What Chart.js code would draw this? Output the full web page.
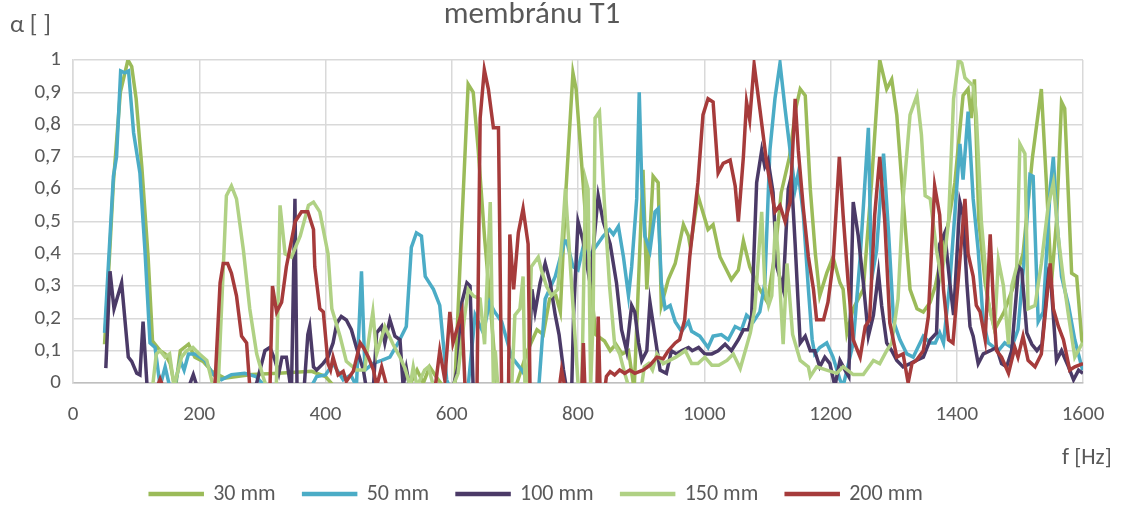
<!DOCTYPE html>
<html>
<head>
<meta charset="utf-8">
<script src="https://cdn.jsdelivr.net/npm/chart.js@4.4.1/dist/chart.umd.min.js"></script>
<style>
  html, body { margin: 0; padding: 0; background: #ffffff; }
  #wrap { width: 1126px; height: 509px; }
</style>
</head>
<body>
<div id="wrap"><canvas id="c" width="1126" height="509"></canvas></div>
<script>
// Absorption coefficient α versus frequency for five air-gap depths behind membrane T1
const titleText = 'membránu T1';
const yAxisTitle = 'α [ ]';
const xAxisTitle = 'f [Hz]';
const seriesNames = ['30 mm', '50 mm', '100 mm', '150 mm', '200 mm'];
const seriesColors = ['#9BBB59', '#4BACC6', '#4B3A67', '#B0D184', '#A63B3B'];
const yTickLabels = ['0', '0,1', '0,2', '0,3', '0,4', '0,5', '0,6', '0,7', '0,8', '0,9', '1'];
const xTickLabels = ['0', '200', '400', '600', '800', '1000', '1200', '1400', '1600'];

// [f in Hz, α]
const s30 = [[50,0.12],[58,0.40],[64,0.62],[75,0.90],[87,1.00],[93,0.98],[100,0.88],[109,0.67],[119,0.39],[126,0.13],[138,0.10],[146,0.09],[154,0.06],[162,-0.02],[170,0.10],[183,0.12],[193,0.08],[206,0.067],[220,0.036],[240,0.015],[283,0.026],[325,0.03],[378,0.036],[400,0.02],[418,-0.02],[440,-0.03],[530,-0.02],[545,0.04],[555,0.00],[565,0.05],[575,0.02],[590,-0.02],[605,0.00],[615,0.45],[626,0.925],[634,0.90],[642,0.72],[652,0.45],[662,0.22],[672,-0.02],[700,-0.02],[720,0.10],[735,0.165],[745,0.15],[755,0.26],[765,0.27],[772,0.22],[781,0.60],[792,0.96],[797,0.91],[808,0.62],[818,0.35],[828,0.15],[842,0.13],[851,0.10],[860,0.12],[870,0.09],[880,0.10],[889,-0.02],[903,0.66],[909,0.29],[919,0.64],[927,0.62],[932,0.24],[943,0.32],[954,0.37],[967,0.49],[975,0.455],[978,0.42],[990,0.58],[1006,0.475],[1014,0.49],[1025,0.39],[1043,0.32],[1054,0.35],[1062,0.44],[1072,0.36],[1085,0.30],[1100,0.25],[1112,0.40],[1122,0.59],[1135,0.70],[1145,0.85],[1152,0.91],[1160,0.89],[1168,0.60],[1176,0.40],[1183,0.27],[1194,0.34],[1204,0.39],[1215,0.31],[1220,0.29],[1226,0.155],[1236,0.23],[1252,0.29],[1265,0.62],[1278,1.0],[1289,0.91],[1297,0.94],[1305,0.83],[1313,0.62],[1326,0.29],[1337,0.23],[1347,0.22],[1358,0.25],[1366,0.30],[1387,0.50],[1397,0.62],[1410,0.89],[1418,0.91],[1423,0.82],[1428,0.94],[1435,0.50],[1445,0.31],[1452,0.23],[1460,0.165],[1475,0.22],[1490,0.30],[1505,0.40],[1520,0.70],[1534,0.91],[1542,0.62],[1550,0.31],[1558,0.50],[1566,0.87],[1571,0.85],[1582,0.34],[1590,0.33],[1598,0.135],[1600,0.12]];

const s50 = [[50,0.155],[64,0.64],[69,0.70],[75.5,0.966],[82,0.96],[88,0.966],[96,0.775],[106,0.65],[114,0.41],[122,0.124],[130,0.11],[138,-0.01],[146,0.05],[153,-0.01],[162,0.0],[170,0.07],[176,0.04],[183,0.09],[193,0.09],[209,0.07],[222,0.026],[235,0.01],[251,0.026],[272,0.03],[290,0.02],[304,-0.01],[330,-0.03],[375,-0.02],[386,0.02],[400,0.025],[412,0.06],[428,0.01],[440,0.025],[449,-0.01],[457,0.346],[462.5,0.04],[475,0.06],[489,0.07],[502,0.08],[515,0.124],[528,0.175],[536,0.42],[544,0.465],[552,0.455],[558,0.33],[571,0.29],[581,0.24],[592,0.01],[600,-0.03],[626,-0.01],[637,0.21],[650,0.155],[660,0.25],[668,0.22],[679,0.19],[695,0.08],[711,0.04],[726,-0.01],[738,-0.01],[748,0.26],[764,0.33],[779,0.44],[782,0.44],[792,0.36],[800,0.35],[808,0.42],[816,0.39],[824,0.41],[840,0.455],[850,0.475],[856,0.46],[864,0.485],[872,0.39],[880,0.27],[885,0.36],[893,0.57],[897,0.90],[901,0.62],[906,0.455],[914,0.41],[922,0.53],[927,0.54],[932,0.31],[938,0.23],[946,0.24],[954,0.19],[964,0.16],[975,0.19],[980,0.16],[993,0.145],[1006,0.11],[1014,0.145],[1027,0.15],[1038,0.134],[1049,0.175],[1059,0.165],[1067,0.21],[1078,0.19],[1088,0.22],[1096,0.31],[1104,0.72],[1112,0.88],[1120,0.99],[1128,0.85],[1136,0.72],[1144,0.60],[1149,0.65],[1157,0.52],[1165,0.29],[1171,0.134],[1175,0.09],[1183,0.11],[1194,0.124],[1204,0.08],[1215,0.01],[1220,-0.01],[1226,0.04],[1236,0.124],[1247,0.39],[1260,0.79],[1265,0.32],[1273,0.41],[1284,0.71],[1292,0.465],[1300,0.19],[1310,0.134],[1321,0.09],[1331,0.08],[1347,0.145],[1358,0.124],[1366,0.124],[1373,0.155],[1379,0.124],[1389,0.31],[1405,0.74],[1410,0.63],[1418,0.84],[1426,0.57],[1434,0.41],[1442,0.19],[1450,0.124],[1466,0.10],[1476,0.124],[1487,0.11],[1497,0.165],[1508,0.41],[1516,0.645],[1521,0.64],[1529,0.19],[1537,0.22],[1548,0.60],[1553,0.70],[1558,0.52],[1566,0.33],[1577,0.24],[1587,0.134],[1598,0.05],[1600,0.04]];

const s100 = [[52,0.046],[58.6,0.346],[65,0.23],[77,0.31],[87.6,0.08],[93,0.067],[101,0.03],[106,0.025],[111,0.19],[118,-0.03],[180,-0.03],[190.6,0.026],[198,-0.02],[285,-0.02],[291,0.0],[304,0.10],[312,0.11],[320,0.07],[326,0.03],[331,0.08],[338,0.08],[346,-0.03],[351.6,0.57],[355,-0.03],[366,-0.02],[372,0.15],[375,0.175],[381,0.05],[386,0.04],[396,0.06],[404,0.08],[412,0.124],[418,0.186],[425,0.206],[433,0.195],[441,0.165],[449,0.11],[460,0.04],[465,-0.02],[476,-0.01],[481,0.155],[489,0.175],[494,0.124],[502,0.196],[510,0.145],[518,0.134],[523,-0.01],[528,0.046],[535,-0.03],[600,-0.03],[610,0.05],[616,0.25],[624,0.31],[629,0.30],[634,-0.02],[720,-0.02],[724,0.15],[727,0.29],[732,0.22],[740,0.31],[748,0.37],[756,0.31],[764,0.21],[770,0.15],[777,0.04],[782,-0.02],[790,-0.02],[793,0.21],[800,0.50],[808,0.44],[819,0.31],[832,0.58],[840,0.50],[851,0.43],[861,0.31],[869,0.165],[877,0.10],[885,0.24],[890,0.22],[896,0.124],[901,0.07],[909,0.10],[914,0.25],[922,0.145],[930,0.04],[940,0.03],[948,0.10],[956,0.09],[964,0.10],[975,0.11],[981,0.10],[991,0.11],[1001,0.09],[1012,0.09],[1022,0.10],[1033,0.12],[1043,0.10],[1054,0.134],[1062,0.165],[1070,0.165],[1075,0.206],[1083,0.62],[1091,0.72],[1096,0.67],[1101,0.69],[1109,0.59],[1115,0.36],[1125,0.29],[1133,0.60],[1138,0.64],[1144,0.43],[1152,0.124],[1160,0.145],[1168,0.10],[1175,0.10],[1183,0.05],[1191,0.08],[1199,0.06],[1207,-0.01],[1215,0.07],[1223,0.04],[1229,0.02],[1236,0.56],[1244,0.455],[1252,0.31],[1260,0.145],[1268,0.21],[1276,0.34],[1281,0.24],[1289,0.124],[1297,0.10],[1305,0.07],[1315,0.05],[1326,0.06],[1336,0.07],[1347,0.08],[1358,0.134],[1368,0.155],[1373,0.43],[1381,0.465],[1389,0.31],[1395,0.21],[1405,0.56],[1410,0.52],[1416,0.31],[1421,0.175],[1426,0.145],[1434,0.06],[1442,0.09],[1453,0.10],[1463,0.11],[1471,0.06],[1479,0.05],[1487,0.10],[1498,0.36],[1503,0.35],[1511,0.155],[1519,0.12],[1527,0.10],[1535,0.12],[1545,0.33],[1550,0.29],[1558,0.07],[1566,0.10],[1577,0.05],[1585,0.01],[1593,0.04],[1600,0.03]];

const s150 = [[50,-0.05],[125,-0.03],[132,0.09],[138,0.10],[146,0.08],[153,0.09],[160,-0.01],[172,0.08],[180,0.10],[190,0.11],[200,0.09],[212,0.07],[222,-0.01],[230,-0.01],[243,0.58],[251,0.61],[259,0.57],[270,0.41],[280,0.23],[291,0.09],[301,0.02],[308,-0.02],[322,-0.02],[328,0.55],[336,0.40],[346,0.39],[360,0.455],[373,0.55],[381,0.56],[391,0.53],[404,0.40],[410,0.23],[423,0.145],[433,0.067],[449,0.04],[462,0.04],[470,0.155],[475,0.22],[481,0.09],[494,0.175],[507,0.12],[518,0.08],[526,0.045],[534,-0.01],[539,0.05],[545,-0.01],[557,0.04],[563,0.05],[571,-0.01],[600,-0.02],[610,0.03],[620,0.20],[626,0.29],[634,0.27],[645,0.26],[652,0.12],[661,0.56],[666,-0.01],[669,0.10],[673,-0.01],[695,-0.01],[700,0.21],[708,0.23],[713,0.33],[716,-0.01],[720,-0.01],[726,0.36],[737,0.39],[742,0.35],[750,0.30],[758,0.27],[768,0.29],[775,0.45],[780,0.60],[790,0.30],[800,0.0],[806,-0.02],[812,0.63],[816,0.60],[820,-0.01],[824,0.20],[827,0.82],[834,0.84],[842,0.55],[850,0.30],[858,0.12],[866,0.09],[874,0.03],[880,-0.01],[900,-0.02],[905,0.05],[912,0.06],[918,0.04],[925,0.09],[935,0.06],[945,0.07],[955,0.08],[970,0.10],[980,0.06],[990,0.06],[1001,0.08],[1012,0.055],[1023,0.055],[1036,0.07],[1046,0.09],[1057,0.045],[1065,0.10],[1073,0.155],[1080,0.23],[1091,0.53],[1096,0.30],[1102,0.24],[1107,0.27],[1113,0.50],[1117,0.40],[1125,0.12],[1131,0.37],[1140,0.15],[1152,0.07],[1165,0.05],[1168,0.02],[1178,0.05],[1194,0.04],[1210,0.03],[1220,0.05],[1236,0.026],[1252,0.026],[1268,0.07],[1278,0.06],[1289,0.10],[1297,0.124],[1307,0.26],[1315,0.57],[1326,0.83],[1337,0.89],[1344,0.77],[1350,0.58],[1358,0.57],[1368,0.41],[1375,0.33],[1380,0.38],[1387,0.50],[1395,0.88],[1403,1.0],[1408,0.99],[1413,0.945],[1426,0.92],[1431,0.83],[1439,0.50],[1450,0.25],[1460,0.165],[1466,0.38],[1474,0.30],[1482,0.12],[1487,0.30],[1495,0.36],[1500,0.74],[1508,0.71],[1513,0.23],[1524,0.24],[1534,0.37],[1545,0.55],[1553,0.62],[1561,0.45],[1569,0.32],[1577,0.21],[1587,0.08],[1598,0.12],[1600,0.12]];

const s200 = [[50,-0.05],[130,-0.03],[138,0.012],[146,-0.03],[220,-0.03],[225,0.0],[233,0.31],[238,0.37],[245,0.37],[251,0.34],[259,0.27],[267,0.145],[275,0.124],[280,-0.01],[312,-0.02],[316,0.30],[322.6,0.22],[330.5,0.25],[338,0.36],[352,0.50],[362,0.53],[372,0.53],[381,0.475],[383,0.36],[391,0.23],[396.5,0.22],[404,0.06],[408,0.04],[412,0.08],[420,0.025],[428,0.036],[433,0.005],[444,0.036],[455,0.124],[460,0.11],[468,0.08],[476,0.04],[481,-0.01],[489,0.05],[497,-0.01],[570,-0.02],[574,-0.01],[581,0.10],[589,0.01],[597,0.22],[602,0.124],[616,0.22],[621,-0.01],[640,-0.02],[645,0.82],[651.6,0.97],[658,0.91],[666,0.79],[674,0.79],[679,-0.02],[690,-0.02],[692,0.46],[698,0.29],[705.5,0.465],[713,0.54],[721,0.43],[724,-0.02],[770,-0.02],[774,0.04],[779,-0.01],[806,-0.02],[808.5,0.124],[811,-0.02],[830,-0.02],[832,0.206],[835,-0.02],[843,-0.01],[845,0.02],[851,0.035],[858,0.025],[866,0.04],[874,0.03],[882,0.04],[890,0.03],[903,0.04],[914,0.055],[925,0.08],[935,0.075],[943,0.10],[954,0.124],[961,0.134],[969,0.196],[977,0.39],[990,0.62],[998,0.83],[1006,0.88],[1014,0.87],[1022,0.65],[1030,0.68],[1041,0.69],[1049,0.61],[1054,0.50],[1062,0.70],[1067,0.87],[1072,0.815],[1079,0.986],[1088,0.85],[1099,0.68],[1112,0.53],[1120,0.55],[1128,0.50],[1136,0.56],[1144,0.88],[1149,0.72],[1157,0.54],[1165,0.39],[1173,0.29],[1178,0.196],[1189,0.196],[1196,0.25],[1204,0.37],[1214,0.70],[1220,0.52],[1228,0.31],[1236,0.134],[1247,0.08],[1255,0.175],[1262,0.196],[1270,0.52],[1278,0.70],[1286,0.50],[1294,0.186],[1305,0.08],[1315,0.09],[1323,0.0],[1329,0.06],[1336,0.07],[1347,0.10],[1355,0.206],[1365,0.61],[1373,0.52],[1379,0.29],[1387,0.134],[1394,0.124],[1402,0.31],[1413,0.57],[1418,0.40],[1426,0.33],[1431,0.24],[1437,0.22],[1445,0.134],[1453,0.46],[1458,0.25],[1463,0.10],[1471,0.08],[1482,0.03],[1492,0.11],[1497,0.08],[1505,0.145],[1513,0.07],[1524,0.05],[1534,0.09],[1548,0.37],[1553,0.23],[1561,0.175],[1569,0.134],[1579,0.04],[1587,0.05],[1600,0.06]];

const seriesData = [s30, s50, s100, s150, s200];
const FONT = 'Carlito, Lato, "Open Sans", sans-serif';
const TEXT = '#595959';
const PLOT_BOTTOM = 383;     // pixel row of α = 0
const LEGEND_MID = 494;      // vertical centre of the legend row
const LEGEND_SHIFT_X = -5;   // legend row sits slightly left of centre
const LEGEND_FONT = 22;
const TICK_FONT = 21;

// Legend placement plus axis titles and chart heading drawn on the canvas
const captions = {
  id: 'captions',
  afterLayout(chart) {
    const lg = chart.legend;
    if (!lg) return;
    const pad = lg.options.labels.padding;
    const dy = LEGEND_MID - (lg.top + pad + LEGEND_FONT / 2);
    lg.top += dy; lg.bottom += dy;
    lg.left += LEGEND_SHIFT_X; lg.right += LEGEND_SHIFT_X;
  },
  afterDraw(chart) {
    const ctx = chart.ctx;
    ctx.save();
    ctx.fillStyle = TEXT;
    ctx.font = '31px ' + FONT;
    ctx.textAlign = 'center';
    ctx.textBaseline = 'alphabetic';
    ctx.fillText(titleText, 532, 23);
    ctx.font = '25px ' + FONT;
    ctx.textAlign = 'left';
    ctx.textBaseline = 'middle';
    ctx.fillText(yAxisTitle, 10, 26);
    ctx.font = '23px ' + FONT;
    ctx.fillText(xAxisTitle, 1062, 458);
    ctx.restore();
  }
};

const datasets = seriesNames.map((name, i) => ({
  label: name,
  data: seriesData[i].map(p => ({ x: p[0], y: p[1] })),
  borderColor: seriesColors[i],
  backgroundColor: seriesColors[i],
  borderWidth: 3.5,
  pointRadius: 0,
  tension: 0,
  fill: false,
  order: seriesNames.length - i
}));

new Chart(document.getElementById('c'), {
  type: 'line',
  data: { datasets },
  options: {
    responsive: false,
    animation: false,
    devicePixelRatio: 1,
    layout: { padding: { left: 0, right: 43, top: 60, bottom: 0 } },
    plugins: {
      legend: {
        position: 'bottom',
        labels: {
          boxWidth: 52,
          boxHeight: 1,
          padding: 28,
          color: TEXT,
          font: { family: FONT, size: LEGEND_FONT },
          sort: (a, b) => a.datasetIndex - b.datasetIndex
        }
      },
      tooltip: { enabled: false },
      title: { display: false }
    },
    scales: {
      x: {
        type: 'linear',
        min: 0,
        max: 1600,
        afterFit: s => {
          const lh = s.chart.legend ? s.chart.legend.height : 0;
          s.height = s.chart.height - PLOT_BOTTOM - lh;
        },
        ticks: {
          stepSize: 200,
          padding: 19,
          color: TEXT,
          font: { family: FONT, size: TICK_FONT },
          maxRotation: 0,
          callback: (v, idx) => xTickLabels[idx]
        },
        grid: { color: '#D9D9D9', lineWidth: 1.5, drawTicks: false },
        border: { color: '#BFBFBF', width: 1.5 }
      },
      y: {
        min: 0,
        max: 1,
        afterFit: s => { s.width = 73; },
        ticks: {
          stepSize: 0.1,
          padding: 12,
          color: TEXT,
          font: { family: FONT, size: TICK_FONT },
          callback: (v, idx) => yTickLabels[idx]
        },
        grid: { color: '#D9D9D9', lineWidth: 1.5, drawTicks: false },
        border: { color: '#D9D9D9', width: 1.5 }
      }
    }
  },
  plugins: [captions]
});
</script>
</body>
</html>
